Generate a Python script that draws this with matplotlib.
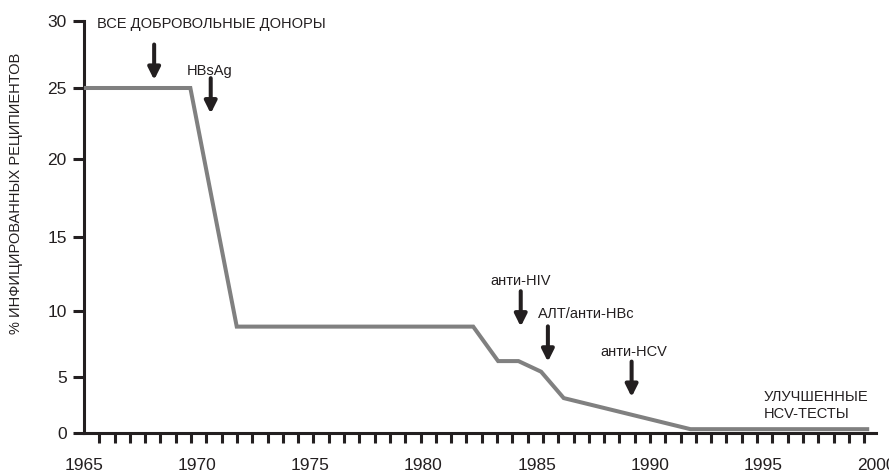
import matplotlib
matplotlib.use("Agg")
import matplotlib.pyplot as plt
import numpy as np

plt.rcParams['font.family'] = ['Liberation Sans', 'DejaVu Sans']

# line data: year -> % infected recipients
years = [1965, 1969.7, 1971.75, 1982.2, 1983.3, 1984.2, 1985.2, 1986.2, 1991.8, 1999.7]
infected = [25, 25, 8.8, 8.8, 6.2, 6.2, 5.4, 3.1, 0.3, 0.3]

# arrows: label, arrow year, arrow tip value
events = ["ВСЕ ДОБРОВОЛЬНЫЕ ДОНОРЫ", "HBsAg", "анти-HIV", "АЛТ/анти-НВс", "анти-HCV"]
event_years = [1968.1, 1970.6, 1984.3, 1985.5, 1989.2]
event_tips = [25.6, 23.2, 8.8, 6.15, 3.2]

x_ticks = [1965, 1970, 1975, 1980, 1985, 1990, 1995, 2000]
y_ticks = [0, 5, 10, 15, 20, 25, 30]

# the original y axis is hand drawn: tick spacing is uneven
# (pixel heights of each tick above the zero line)
y_calib_h = [0, 55.5, 121.8, 195.8, 273.5, 344.5, 411.8]


def fwd(v):
    vals = [-1000] + y_ticks + [1000]
    h = [-1000 * 11.1] + y_calib_h + [411.8 + 970 * 13.46]
    return np.interp(v, vals, h)


def inv(h):
    vals = [-1000] + y_ticks + [1000]
    hh = [-1000 * 11.1] + y_calib_h + [411.8 + 970 * 13.46]
    return np.interp(h, hh, vals)


ink = '#231f20'
fig = plt.figure(figsize=(8.89, 4.73), dpi=100)
ax = fig.add_axes([84 / 889, 40.5 / 473, (876 - 84) / 889, (432.5 - 20.7) / 473])
ax.set_yscale('function', functions=(fwd, inv))

ax.plot(years, infected, color='#808080', lw=2.9, solid_joinstyle='miter',
        solid_capstyle='butt', zorder=3, clip_on=False)

ax.set_xlim(1965, 2000)
ax.set_ylim(0, 30)

for s in ['top', 'right']:
    ax.spines[s].set_visible(False)
for s in ['left', 'bottom']:
    ax.spines[s].set_linewidth(2.2)
    ax.spines[s].set_color(ink)

ax.set_xticks(x_ticks)
ax.set_xticks(1965 + 0.676 * np.arange(52), minor=True)
ax.tick_params(axis='x', which='major', length=0, pad=18, labelsize=12.5, labelcolor=ink)
ax.tick_params(axis='x', which='minor', length=7.2, width=2.2, color=ink, direction='out')
ax.set_yticks(y_ticks)
ax.set_yticks([], minor=True)
ax.tick_params(axis='y', which='major', length=8, width=2.2, color=ink, pad=4.5,
               labelsize=12.5, labelcolor=ink)

fig.text(16 / 889, 1 - 193 / 473, "% ИНФИЦИРОВАННЫХ РЕЦИПИЕНТОВ", rotation=90,
         ha='center', va='center', fontsize=10.5, color=ink)

# event arrows
for yr, tip in zip(event_years, event_tips):
    ax.annotate("", xy=(yr, tip), xytext=(0, 25.5), textcoords='offset points',
                arrowprops=dict(arrowstyle='-|>', lw=2.9, color=ink,
                                mutation_scale=18, shrinkA=0, shrinkB=0))

ax.text(1965.57, 29.75, events[0], ha='left', va='center', fontsize=10.5, color=ink)
ax.text(1970.55, 26.3, events[1], ha='center', va='center', fontsize=10.5, color=ink)
ax.text(1984.3, 12.0, events[2], ha='center', va='center', fontsize=10.5, color=ink)
ax.text(1985.04, 9.75, events[3], ha='left', va='center', fontsize=10.5, color=ink)
ax.text(1989.3, 6.9, events[4], ha='center', va='center', fontsize=10.5, color=ink)
ax.text(1995.04, 2.43, "УЛУЧШЕННЫЕ\nHCV-ТЕСТЫ", ha='left', va='center',
        fontsize=10.5, color=ink, linespacing=1.2)

fig.savefig("out.png", dpi=100)
